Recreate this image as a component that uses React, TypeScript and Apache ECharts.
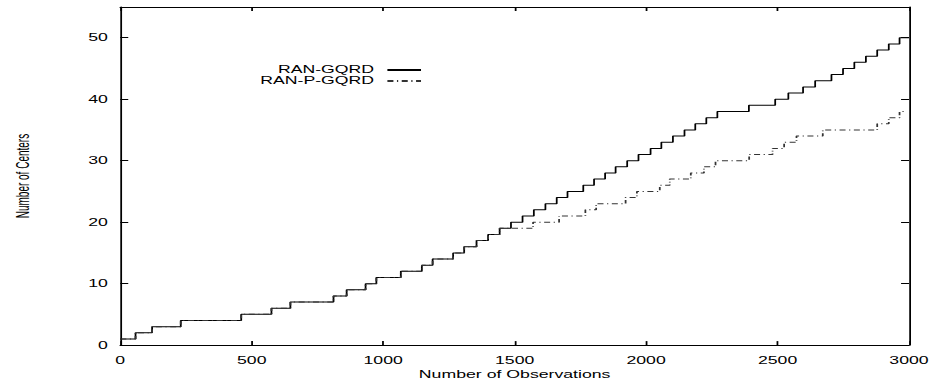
import React, { useEffect, useRef } from "react";
import * as echarts from "echarts";

// Step data: [number of observations, number of centers]
const RAN_GQRD: [number, number][] = [
  [0, 1], [58, 2], [121, 3], [230, 4], [460, 5], [575, 6], [647, 7], [811, 8],
  [861, 9], [933, 10], [974, 11], [1067, 12], [1147, 13], [1188, 14], [1266, 15],
  [1308, 16], [1355, 17], [1399, 18], [1443, 19], [1486, 20], [1530, 21], [1573, 22],
  [1617, 23], [1660, 24], [1701, 25], [1761, 26], [1802, 27], [1844, 28], [1884, 29],
  [1928, 30], [1971, 31], [2017, 32], [2058, 33], [2102, 34], [2146, 35], [2187, 36],
  [2229, 37], [2271, 38], [2391, 39], [2491, 40], [2541, 41], [2597, 42], [2643, 43],
  [2705, 44], [2749, 45], [2792, 46], [2836, 47], [2879, 48], [2923, 49], [2964, 50],
  [3000, 50],
];

const RAN_P_GQRD: [number, number][] = [
  [0, 1], [58, 2], [121, 3], [230, 4], [460, 5], [575, 6], [647, 7], [811, 8],
  [861, 9], [933, 10], [974, 11], [1067, 12], [1147, 13], [1188, 14], [1266, 15],
  [1308, 16], [1355, 17], [1399, 18], [1443, 19], [1570, 20], [1669, 21], [1769, 22],
  [1810, 23], [1922, 24], [1965, 25], [2052, 26], [2090, 27], [2170, 28], [2220, 29],
  [2264, 30], [2392, 31], [2481, 32], [2525, 33], [2572, 34], [2672, 35], [2879, 36],
  [2923, 37], [2964, 38], [2990, 38],
];

const X_MIN = 0;
const X_MAX = 3000;
const X_STEP = 500;
const Y_MIN = 0;
const Y_MAX = 55;
const Y_STEP = 10;

const SERIES_NAMES = ["RAN-GQRD", "RAN-P-GQRD"];

// The reference is a horizontally stretched plot; draw at base width and stretch.
const BASE_W = 528;
const H = 385;
const STRETCH = 934 / BASE_W;

const FONT = "Liberation Sans, Arial, Helvetica, sans-serif";

export default function App() {
  const ref = useRef<HTMLDivElement>(null);

  useEffect(() => {
    if (!ref.current) return;
    const chart = echarts.init(ref.current, undefined, { renderer: "svg" });
    const axisLine = { show: true, onZero: false, lineStyle: { color: "#000", width: 1 } };
    const tick = { show: true, inside: true, length: 4, lineStyle: { color: "#000", width: 1 } };
    const label = { color: "#000", fontSize: 10, fontFamily: FONT };
    chart.setOption({
      animation: false,
      backgroundColor: "#fff",
      grid: { left: 62, right: 11, top: 7, bottom: 32, containLabel: false },
      legend: {
        orient: "vertical",
        align: "right",
        right: 289,
        top: 64.5,
        padding: 0,
        itemWidth: 19,
        itemHeight: 8,
        itemGap: 0,
        itemStyle: { color: "rgba(0,0,0,0)", borderWidth: 0, opacity: 0 },
        textStyle: {
          color: "#000",
          fontSize: 10,
          lineHeight: 11,
          fontFamily: FONT,
          padding: [0, 2.5, 0, 0],
        },
        data: SERIES_NAMES,
      },
      xAxis: [
        {
          type: "value",
          position: "bottom",
          min: X_MIN,
          max: X_MAX,
          interval: X_STEP,
          axisLine,
          axisTick: tick,
          axisLabel: { ...label, margin: 10, formatter: (v: number) => String(v) },
          splitLine: { show: false },
          name: "Number of Observations",
          nameLocation: "middle",
          nameGap: 16,
          nameTextStyle: { color: "#000", fontSize: 10, fontFamily: FONT },
        },
        {
          type: "value",
          position: "top",
          min: X_MIN,
          max: X_MAX,
          interval: X_STEP,
          axisLine,
          axisTick: tick,
          axisLabel: { show: false },
          splitLine: { show: false },
        },
      ],
      yAxis: [
        {
          type: "value",
          position: "left",
          min: Y_MIN,
          max: Y_MAX,
          interval: Y_STEP,
          axisLine,
          axisTick: { ...tick, length: 4.5 },
          axisLabel: { ...label, margin: 7, showMaxLabel: false },
          splitLine: { show: false },
          name: "Number of Centers",
          nameLocation: "middle",
          nameRotate: 90,
          nameGap: 50,
          nameTextStyle: { color: "#000", fontSize: 10, fontFamily: FONT },
        },
        {
          type: "value",
          position: "right",
          min: Y_MIN,
          max: Y_MAX,
          interval: Y_STEP,
          axisLine,
          axisTick: { ...tick, length: 4.5 },
          axisLabel: { show: false },
          splitLine: { show: false },
        },
      ],
      series: [
        {
          name: SERIES_NAMES[0],
          type: "line",
          step: "end",
          symbol: "none",
          xAxisIndex: 0,
          yAxisIndex: 0,
          lineStyle: { color: "#000", width: 1 },
          itemStyle: { color: "#000" },
          data: RAN_GQRD,
        },
        {
          name: SERIES_NAMES[1],
          type: "line",
          step: "end",
          symbol: "none",
          xAxisIndex: 0,
          yAxisIndex: 0,
          lineStyle: { color: "#333", width: 1, type: [3.4, 2, 0.7, 2] },
          itemStyle: { color: "#333" },
          data: RAN_P_GQRD,
        },
      ],
    });
    return () => chart.dispose();
  }, []);

  return (
    <div
      ref={ref}
      style={{
        position: "absolute",
        left: 0,
        top: 0,
        width: BASE_W,
        height: H,
        transform: `scaleX(${STRETCH})`,
        transformOrigin: "0 0",
      }}
    />
  );
}
